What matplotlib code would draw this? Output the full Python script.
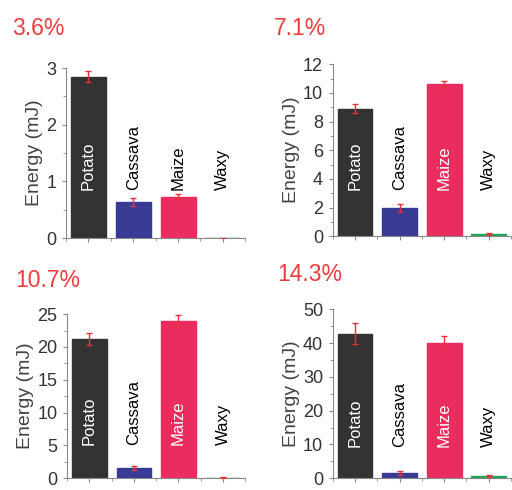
import numpy as np
import matplotlib
matplotlib.use('Agg')
import matplotlib.pyplot as plt
from matplotlib.ticker import MultipleLocator

plt.rcParams['font.family'] = ['Liberation Sans', 'DejaVu Sans']

starches = ['Potato', 'Cassava', 'Maize', 'Waxy']
bar_colors = ['#333333', '#373b94', '#ea2c5e', '#22a55a']

# energy (mJ) and error per starch, one set per concentration
concentrations = ['3.6%', '7.1%', '10.7%', '14.3%']
energy_36 = [2.85, 0.63, 0.73, 0.0]
err_36 = [0.095, 0.07, 0.04, 0.01]
energy_71 = [8.9, 1.96, 10.6, 0.14]
err_71 = [0.3, 0.28, 0.2, 0.05]
energy_107 = [21.2, 1.5, 24.0, 0.1]
err_107 = [0.85, 0.3, 0.85, 0.1]
energy_143 = [42.8, 1.5, 40.0, 0.6]
err_143 = [3.0, 0.6, 2.1, 0.3]

energies = [energy_36, energy_71, energy_107, energy_143]
errors = [err_36, err_71, err_107, err_143]
ytops = [3, 12, 25, 50]
ymajor = [1, 2, 5, 10]

# layout of each panel
positions = [[0.129, 0.514, 0.350, 0.347],
             [0.650, 0.518, 0.348, 0.351],
             [0.131, 0.024, 0.348, 0.335],
             [0.650, 0.024, 0.348, 0.345]]
title_xy = [(0.023, 0.929), (0.535, 0.929), (0.029, 0.414), (0.541, 0.427)]
label_y = [0.282, 0.267, 0.205, 0.185]

fig = plt.figure(figsize=(5.12, 4.9), dpi=100)
x = np.arange(1, len(starches) + 1)

for i in range(4):
    ax = fig.add_axes(positions[i])
    ax.bar(x, energies[i], width=0.78, color=bar_colors,
           edgecolor=bar_colors, linewidth=1, zorder=2)
    ax.errorbar(x, energies[i], yerr=errors[i], fmt='none', ecolor='#e8323a',
                elinewidth=1, capsize=2.2, capthick=1, zorder=3)

    ax.set_xlim(0.5, 4.5)
    ax.set_ylim(0, ytops[i])
    ax.yaxis.set_major_locator(MultipleLocator(ymajor[i]))
    ax.yaxis.set_minor_locator(MultipleLocator(ymajor[i] / 2))
    ax.set_xticks(x)
    ax.set_xticklabels([])
    ax.xaxis.set_minor_locator(MultipleLocator(0.5))

    for side in ['top', 'right']:
        ax.spines[side].set_visible(False)
    for side in ['left', 'bottom']:
        ax.spines[side].set_color('#888888')
        ax.spines[side].set_linewidth(0.8)
    ax.tick_params(axis='both', which='major', length=3, width=0.8,
                   color='#888888', labelsize=13, labelcolor='#333333', pad=4)
    ax.tick_params(axis='both', which='minor', length=2, width=0.6,
                   color='#888888')
    ax.set_ylabel('Energy (mJ)', fontsize=14, color='#444444', labelpad=2)

    for j, name in enumerate(starches):
        inside = energies[i][j] / ytops[i] > 0.5
        ax.text(x[j], label_y[i], name, transform=ax.get_xaxis_transform(),
                rotation=90, ha='center', va='bottom', fontsize=12,
                color='white' if inside else 'black', zorder=4)

    fig.text(title_xy[i][0], title_xy[i][1], concentrations[i],
             fontsize=16.5, color='#ee3b3b', va='baseline', ha='left')

fig.savefig('out.png', dpi=100, facecolor='white')
